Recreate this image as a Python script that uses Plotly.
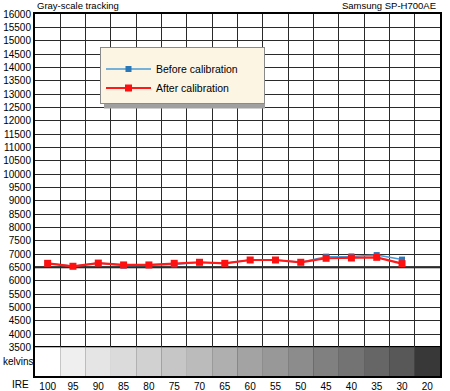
import plotly.graph_objects as go

ire_labels = ["100", "95", "90", "85", "80", "75", "70", "65", "60", "55", "50", "45", "40", "35", "30", "20"]
before_cal = [6650, 6545, 6660, 6565, 6580, 6610, 6685, 6650, 6775, 6775, 6690, 6900, 6910, 6960, 6790, None]
after_cal = [6650, 6540, 6660, 6590, 6590, 6650, 6690, 6650, 6775, 6775, 6690, 6840, 6850, 6875, 6640, None]
band_grays = ["#ffffff", "#efefef", "#e5e5e5", "#dbdbdb", "#d1d1d1", "#c6c6c6", "#bbbbbb", "#afafaf",
              "#a3a3a3", "#989898", "#8c8c8c", "#808080", "#737373", "#666666", "#585858", "#383838"]
y_ticks = list(range(3500, 16001, 500))

FONT = "Liberation Sans, Arial, sans-serif"

fig = go.Figure()
fig.add_trace(go.Scatter(
    x=ire_labels, y=before_cal, name="Before calibration" + "\u00a0" * 7,
    mode="lines+markers",
    line=dict(color="#4a9ad6", width=1.5),
    marker=dict(symbol="square", size=6, color="#2a78b8"),
))
fig.add_trace(go.Scatter(
    x=ire_labels, y=after_cal, name="After calibration",
    mode="lines+markers",
    line=dict(color="#ff1a1a", width=2.2),
    marker=dict(symbol="square", size=7, color="#ff1010"),
))

shapes = []
for i, g in enumerate(band_grays):
    shapes.append(dict(type="rect", xref="x", yref="y", x0=i - 0.5, x1=i + 0.5, y0=2425, y1=3500,
                       fillcolor=g, line=dict(width=0), layer="between"))
shapes.append(dict(type="line", xref="paper", yref="y", x0=0, x1=1, y0=3500, y1=3500,
                   line=dict(color="black", width=2.5), layer="between"))
shapes.append(dict(type="line", xref="paper", yref="y", x0=0, x1=1, y0=6500, y1=6500,
                   line=dict(color="black", width=2), layer="between"))
# legend shadow
shapes.append(dict(type="rect", xref="paper", yref="paper",
                   x0=(104 - 35) / 405, x1=(265 - 35) / 405,
                   y0=(376 - 108.5) / 362, y1=(376 - 50) / 362,
                   fillcolor="#a0a0a0", line=dict(width=0), layer="above"))

fig.update_layout(
    width=450, height=391,
    margin=dict(l=35, r=10, t=14, b=15),
    paper_bgcolor="white", plot_bgcolor="white",
    font=dict(family=FONT, size=10, color="black"),
    showlegend=True,
    legend=dict(x=(100 - 35) / 405, y=(376 - 47) / 362, xanchor="left", yanchor="top",
                bgcolor="#fcf5e4", bordercolor="#8a8a8a", borderwidth=1,
                font=dict(family=FONT, size=10.5), itemwidth=45,
                title=dict(text=" ", font=dict(size=5))),
    shapes=shapes,
    annotations=[
        dict(text="Gray-scale tracking", xref="paper", yref="paper", x=0, y=1, xanchor="left",
             yanchor="bottom", showarrow=False, font=dict(size=9.5), yshift=1),
        dict(text="Samsung SP-H700AE", xref="paper", yref="paper", x=1, y=1, xanchor="right",
             yanchor="bottom", showarrow=False, font=dict(size=9.5), yshift=1, xshift=-2),
        dict(text="kelvins", xref="paper", yref="y", x=0, y=2960, xanchor="right",
             showarrow=False, font=dict(size=10), xshift=1),
        dict(text="IRE", xref="paper", yref="paper", x=0, y=0, xanchor="right", yanchor="top",
             showarrow=False, font=dict(size=10), xshift=-4, yshift=-1),
    ],
)
fig.update_xaxes(type="category", categoryorder="array", categoryarray=ire_labels,
                 range=[-0.5, 15.5], tickson="boundaries", ticks="", ticklen=0, tickangle=0,
                 showgrid=True, gridcolor="#2a2a2a", gridwidth=1.4, automargin=False,
                 showline=True, linecolor="black", linewidth=2, mirror=True,
                 tickfont=dict(size=10))
fig.update_yaxes(range=[2425, 16000], tickvals=y_ticks, ticktext=[str(v) for v in y_ticks],
                 showgrid=True, gridcolor="#2a2a2a", gridwidth=1.4, zeroline=False, automargin=False,
                 showline=True, linecolor="black", linewidth=2, mirror=True,
                 ticks="", ticklen=0, tickfont=dict(size=10))

fig.write_html("out.html")
